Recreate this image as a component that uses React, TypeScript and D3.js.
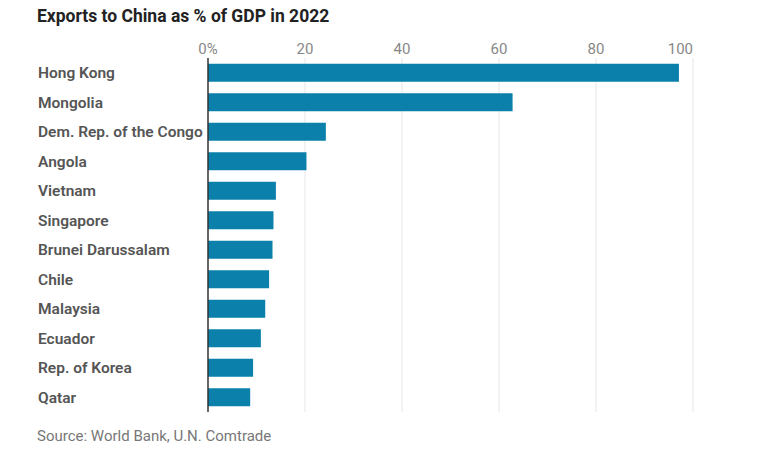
import React from "react";
import * as d3 from "d3";

const countries = [
  "Hong Kong",
  "Mongolia",
  "Dem. Rep. of the Congo",
  "Angola",
  "Vietnam",
  "Singapore",
  "Brunei Darussalam",
  "Chile",
  "Malaysia",
  "Ecuador",
  "Rep. of Korea",
  "Qatar",
];
const values = [97.1, 62.8, 24.3, 20.3, 14.0, 13.5, 13.3, 12.6, 11.8, 10.9, 9.3, 8.7];
const tickValues = [0, 20, 40, 60, 80, 100];
const tickLabels = ["0%", "20", "40", "60", "80", "100"];

const W = 760;
const H = 449;
const FONT = "Roboto, 'Open Sans', sans-serif";

export default function App() {
  const x = d3.scaleLinear().domain([0, 100]).range([208, 693]);
  const y = d3
    .scaleBand<string>()
    .domain(countries)
    .range([58, 412])
    .paddingInner(0.39)
    .paddingOuter(0.195);

  return (
    <svg
      width={W}
      height={H}
      style={{ position: "absolute", left: 0, top: 0, background: "#fff" }}
      fontFamily={FONT}
    >
      <text x={37} y={22} fontSize={17.5} fontWeight={700} fill="#222">
        Exports to China as % of GDP in 2022
      </text>
      {tickValues.map((t, i) => (
        <g key={t}>
          {i > 0 && (
            <line x1={x(t)} x2={x(t)} y1={58} y2={412} stroke="#e6e6e6" strokeWidth={1} />
          )}
          <text
            x={x(t)}
            y={54}
            fontSize={15}
            fill="#888"
            textAnchor={i === tickValues.length - 1 ? "end" : "middle"}
          >
            {tickLabels[i]}
          </text>
        </g>
      ))}
      {countries.map((c, i) => (
        <g key={c}>
          <rect
            x={x(0)}
            y={y(c)!}
            width={x(values[i]) - x(0)}
            height={y.bandwidth()}
            fill="#0a80ab"
          />
          <text
            x={38}
            y={y(c)! + y.bandwidth() / 2}
            dy="0.35em"
            fontSize={15.5}
            fontWeight={600}
            fill="#555"
          >
            {c}
          </text>
        </g>
      ))}
      <line x1={x(0)} x2={x(0)} y1={58} y2={412} stroke="#333" strokeWidth={1.5} />
      <text x={37} y={441} fontSize={15} fill="#777">
        Source: World Bank, U.N. Comtrade
      </text>
    </svg>
  );
}
